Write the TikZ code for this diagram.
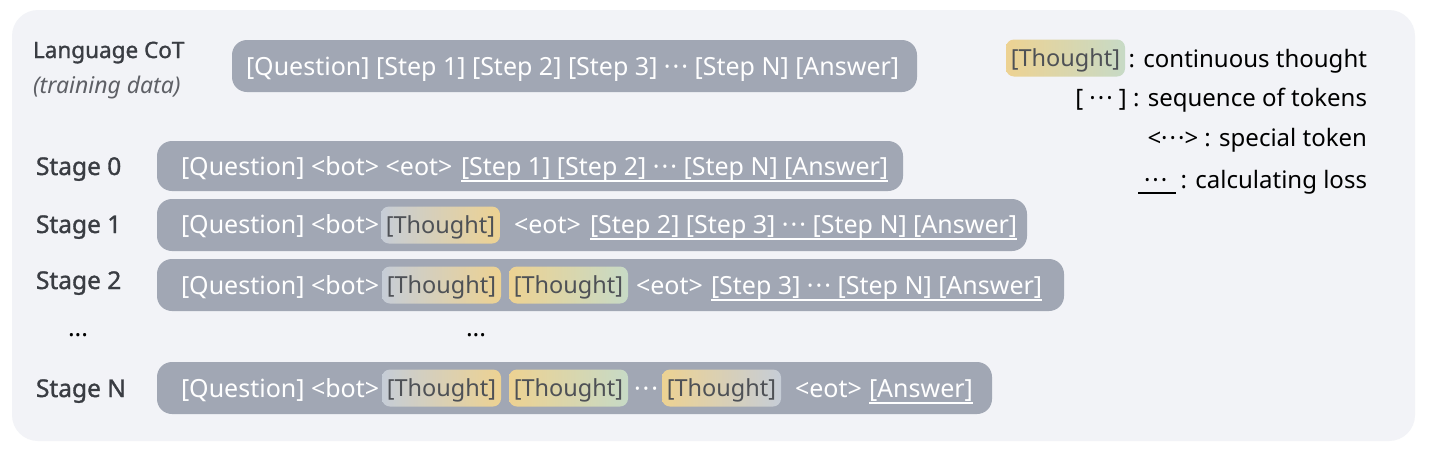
\documentclass[tikz,border=0pt]{standalone}
\usepackage{fontspec}
\setmainfont{Noto Sans}
\newfontfamily\semib[FakeBold=1.3]{Noto Sans}
\definecolor{panel}{HTML}{F2F3F7}
\definecolor{barc}{HTML}{A1A7B4}
\definecolor{lbl}{HTML}{3A3D43}
\definecolor{tgray}{HTML}{5E6066}
\definecolor{thtxt}{HTML}{4E5156}
\definecolor{cblue}{HTML}{C6CDD7}
\definecolor{cyel}{HTML}{EDD292}
\definecolor{cgreen}{HTML}{C7DAC6}
\newcommand\mdots{·\kern2pt·\kern2pt·}
\begin{document}
\begin{tikzpicture}[x=1pt,y=-1pt,
  every node/.style={inner sep=0pt,outer sep=0pt},
  fnt/.style={font=\fontsize{25}{30}\selectfont},
  bar/.style={fill=barc,rounded corners=15pt,anchor=north west},
  wtxt/.style={fnt,text=white,anchor=base west},
  lab/.style={text=lbl,anchor=base west,font=\fontsize{24.5}{29}\selectfont\semib},
  thought/.style={font=\fontsize{23.5}{28}\selectfont,text=thtxt,rounded corners=8pt,
    minimum width=119pt,minimum height=37pt,text height=20pt,text depth=4pt,anchor=west},
  bg/.style={left color=cblue,right color=cyel},
  yg/.style={left color=cyel,right color=cgreen},
  yb/.style={left color=cyel,right color=cblue},
  leg/.style={font=\fontsize{24}{29}\selectfont,text=black,anchor=base east},
  uline/.style={white,line width=1.4pt}]
\useasboundingbox (0,0) rectangle (1430,461);
\fill[white] (0,0) rectangle (1430,461);
\fill[panel,rounded corners=26pt] (12,10) rectangle (1415,441);

% left labels
\node[lab,font=\fontsize{22.5}{27}\selectfont\semib] (lcot) at (33,58) {Language CoT};
\node[text=tgray,anchor=base west,font=\fontsize{23}{28}\selectfont\itshape] (ltd) at (33,93) {(training data)};
\node[lab] (ls0) at (36,175) {Stage 0};
\node[lab] (ls1) at (36,233) {Stage 1};
\node[lab] (ls2) at (36,289) {Stage 2};
\node[fnt,text=black,anchor=base west] (ldl) at (68,336) {...};
\node[fnt,text=black,anchor=base west] (ldr) at (466,336) {...};
\node[lab] (lsn) at (36,397) {Stage N};

% Language CoT
\node[bar,minimum width=685pt,minimum height=52pt] (bc) at (232,40) {};
\node[wtxt] (c1) at (246,75) {[Question] [Step 1] [Step 2] [Step 3] \mdots{} [Step N] [Answer]};

% Stage 0
\node[bar,minimum width=746pt,minimum height=50pt] (b0) at (157,141) {};
\node[wtxt] (s0a) at (181,175) {[Question] <bot> <eot>};
\node[wtxt] (s0b) at (461,175) {[Step 1] [Step 2] \mdots{} [Step N] [Answer]};
\draw[uline] ([yshift=-6pt]s0b.base west) -- ([yshift=-6pt]s0b.base east);

% Stage 1
\node[bar,minimum width=870pt,minimum height=52pt] (b1) at (157,199) {};
\node[wtxt] (s1a) at (181,233) {[Question] <bot>};
\node[thought,bg] (s1t) at (381,225) {[Thought]};
\node[wtxt] (s1e) at (514,233) {<eot>};
\node[wtxt] (s1b) at (590,233) {[Step 2] [Step 3] \mdots{} [Step N] [Answer]};
\draw[uline] ([yshift=-6pt]s1b.base west) -- ([yshift=-6pt]s1b.base east);

% Stage 2
\node[bar,minimum width=907pt,minimum height=52pt] (b2) at (157,259) {};
\node[wtxt] (s2a) at (181,294) {[Question] <bot>};
\node[thought,bg] (s2t1) at (382,285) {[Thought]};
\node[thought,yg] (s2t2) at (509,285) {[Thought]};
\node[wtxt] (s2e) at (636,294) {<eot>};
\node[wtxt] (s2b) at (711,294) {[Step 3] \mdots{} [Step N] [Answer]};
\draw[uline] ([yshift=-6pt]s2b.base west) -- ([yshift=-6pt]s2b.base east);

% Stage N
\node[bar,minimum width=835pt,minimum height=52pt] (bn) at (157,362) {};
\node[wtxt] (sna) at (181,397) {[Question] <bot>};
\node[thought,bg] (snt1) at (382,388) {[Thought]};
\node[thought,yg] (snt2) at (509,388) {[Thought]};
\node[wtxt] (snd) at (634,397) {\mdots};
\node[thought,yb] (snt3) at (662,388) {[Thought]};
\node[wtxt] (sne) at (795,397) {<eot>};
\node[wtxt] (snb) at (869,397) {[Answer]};
\draw[uline] ([yshift=-6pt]snb.base west) -- ([yshift=-6pt]snb.base east);

% legend
\node[leg] (g1) at (1367,67) {: continuous thought};
\node[thought,yg,anchor=east] (gt) at (1125,58) {[Thought]};
\node[leg] (g2) at (1367,106) {[ \mdots{} ] : sequence of tokens};
\node[leg] (g3) at (1367,146) {<\mdots> : special token};
\node[leg] (g4) at (1367,188) {: calculating loss};
\node[leg,anchor=base west] (g4d) at (1144,188) {\mdots};
\draw[black,line width=1.2pt] (1138,193) coordinate (ua) -- (1176,193) coordinate (ub);
\end{tikzpicture}
\end{document}
